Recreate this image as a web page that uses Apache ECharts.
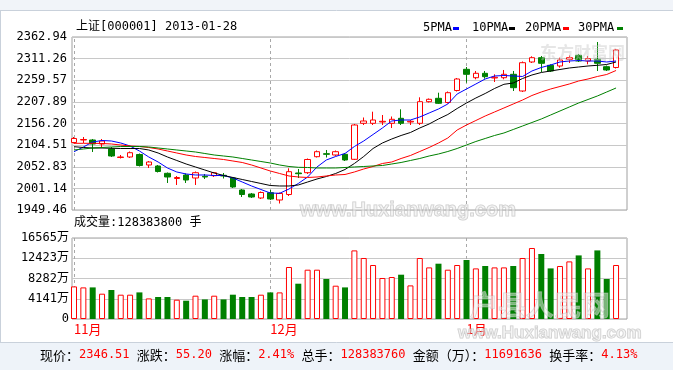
<!DOCTYPE html>
<html><head><meta charset="utf-8">
<script src="https://cdn.jsdelivr.net/npm/echarts@6/dist/echarts.min.js"></script>
<style>html,body{margin:0;padding:0;background:#fff}#c{width:673px;height:370px}</style>
</head><body><div id="c"></div>
<script>
const dates = [
'2012-11-02','2012-11-05','2012-11-06','2012-11-07','2012-11-08','2012-11-09','2012-11-12','2012-11-13','2012-11-14','2012-11-15',
'2012-11-16','2012-11-19','2012-11-20','2012-11-21','2012-11-22','2012-11-23','2012-11-26','2012-11-27','2012-11-28','2012-11-29',
'2012-11-30','2012-12-03','2012-12-04','2012-12-05','2012-12-06','2012-12-07','2012-12-10','2012-12-11','2012-12-12','2012-12-13',
'2012-12-14','2012-12-17','2012-12-18','2012-12-19','2012-12-20','2012-12-21','2012-12-24','2012-12-25','2012-12-26','2012-12-27',
'2012-12-28','2012-12-31','2013-01-04','2013-01-07','2013-01-08','2013-01-09','2013-01-10','2013-01-11','2013-01-14','2013-01-15',
'2013-01-16','2013-01-17','2013-01-18','2013-01-21','2013-01-22','2013-01-23','2013-01-24','2013-01-25','2013-01-28'];

const opens = [2110.80,2116.77,2116.77,2107.21,2095.26,2074.95,2076.14,2082.12,2057.02,2054.63,
2037.18,2024.76,2033.12,2025.95,2030.01,2031.45,2032.40,2025.95,1997.27,1987.71,
1978.15,1990.82,1973.37,1986.52,2037.90,2038.62,2076.86,2084.03,2080.92,2082.59,
2070.64,2156.68,2156.68,2159.79,2156.68,2168.63,2159.79,2156.68,2208.31,2216.43,
2206.40,2235.08,2285.74,2265.67,2276.18,2264.95,2265.67,2273.79,2233.88,2303.19,
2313.47,2295.30,2293.63,2309.64,2319.20,2305.58,2309.64,2291.96,2290.05];
const closes = [2120.36,2117.97,2107.21,2114.38,2078.53,2076.14,2086.42,2055.83,2064.19,2041.49,
2028.34,2027.15,2021.17,2038.62,2028.34,2038.62,2030.73,2004.44,1986.52,1980.54,
1991.30,1975.76,1988.91,2041.01,2036.23,2070.17,2088.81,2082.59,2088.81,2068.97,
2152.62,2162.18,2164.57,2161.46,2166.24,2156.68,2161.46,2208.31,2214.04,2204.48,
2229.82,2262.56,2273.79,2276.18,2268.06,2266.62,2273.79,2241.77,2301.52,2313.47,
2300.08,2281.68,2307.97,2313.47,2305.58,2311.08,2300.08,2284.07,2331.87];
const lows = [2108.41,2109.60,2088.09,2100.04,2076.14,2072.56,2073.75,2053.44,2049.85,2039.10,
2014.00,2009.22,2014.00,2009.22,2023.56,2028.34,2024.76,2002.05,1980.54,1978.15,
1975.76,1973.37,1965.01,1982.93,2025.95,2035.51,2074.95,2074.95,2078.53,2066.58,
2068.97,2152.62,2152.62,2152.62,2145.45,2152.62,2152.62,2152.62,2206.40,2202.81,
2204.01,2232.69,2253.72,2261.84,2263.28,2255.39,2261.84,2233.88,2231.49,2300.80,
2279.29,2279.29,2289.57,2300.80,2303.19,2297.69,2281.68,2281.68,2287.66];
const highs = [2123.94,2123.94,2119.16,2119.16,2100.04,2080.92,2089.29,2084.51,2066.58,2057.02,
2039.10,2030.73,2036.71,2041.49,2035.51,2040.29,2037.90,2027.15,1999.66,1990.10,
1993.69,1997.27,1991.30,2049.13,2047.46,2072.56,2091.68,2092.87,2091.68,2085.70,
2155.01,2170.55,2184.41,2176.52,2172.94,2190.14,2164.57,2218.82,2215.96,2229.82,
2232.69,2264.95,2291.24,2281.68,2281.68,2273.79,2284.07,2281.68,2304.39,2316.81,
2317.53,2297.69,2313.47,2318.73,2322.31,2317.53,2350.99,2294.83,2334.26];

const ma5 = [2088.81,2100.04,2111.99,2115.58,2114.38,2109.60,2102.43,2090.48,2076.14,2064.19,
2049.85,2040.29,2035.51,2033.12,2033.12,2031.93,2031.93,2025.95,2016.39,2006.83,
1998.47,1990.10,1989.38,1999.66,2012.81,2028.34,2052.24,2068.97,2077.34,2084.51,
2101.24,2114.38,2129.92,2145.45,2162.18,2164.57,2164.57,2171.74,2181.30,2190.86,
2202.81,2226.71,2238.66,2250.61,2262.56,2269.73,2270.93,2269.73,2268.54,2281.68,
2290.05,2296.02,2303.19,2305.58,2306.78,2305.58,2305.58,2303.19,2305.58];
const ma10 = [2100.76,2098.85,2097.65,2097.65,2096.93,2096.46,2096.46,2096.46,2092.87,2085.70,
2076.14,2067.78,2059.41,2052.24,2045.07,2037.90,2031.93,2027.15,2022.37,2017.59,
2012.81,2008.03,2006.83,2006.83,2009.22,2016.39,2023.56,2029.54,2036.71,2046.27,
2060.61,2077.34,2096.46,2109.60,2119.16,2127.53,2134.70,2145.45,2155.01,2166.96,
2177.72,2192.06,2205.20,2217.15,2227.91,2239.86,2249.89,2253.00,2263.76,2272.12,
2278.10,2281.68,2285.27,2288.85,2291.24,2293.63,2295.30,2297.22,2303.19];
const ma20 = [2108.88,2108.88,2108.88,2108.41,2107.21,2104.82,2102.43,2101.24,2098.85,2095.26,
2090.48,2085.70,2080.92,2077.34,2074.95,2072.56,2070.17,2066.58,2063.00,2057.02,
2049.85,2042.68,2036.71,2030.73,2028.34,2027.15,2028.34,2030.73,2033.12,2034.32,
2040.29,2047.46,2053.44,2060.61,2064.19,2072.56,2079.73,2089.29,2098.85,2109.60,
2121.55,2140.67,2152.62,2163.38,2174.13,2183.69,2193.25,2202.81,2212.37,2223.13,
2231.49,2238.66,2244.64,2250.61,2257.78,2262.56,2268.54,2273.32,2282.88];
const ma30 = [2092.87,2095.26,2097.65,2098.85,2100.04,2101.24,2101.24,2101.24,2100.04,2097.65,
2095.26,2092.87,2090.48,2088.09,2084.51,2080.92,2078.53,2076.14,2072.56,2068.97,
2065.39,2061.80,2057.02,2053.44,2051.52,2051.05,2049.85,2049.85,2049.85,2051.05,
2052.24,2053.44,2054.63,2055.83,2059.41,2063.00,2067.78,2072.56,2078.53,2083.31,
2089.29,2096.46,2104.82,2113.19,2120.36,2127.53,2133.50,2141.87,2150.23,2158.60,
2166.96,2176.52,2186.08,2195.64,2205.20,2213.57,2221.93,2231.49,2241.05];

// volume in 万手
const volumes = [6667,6462,6462,5174,5930,4970,4970,5440,4213,4499,
4499,3947,3742,4765,4008,4765,4008,4970,4499,4499,
4970,5440,5440,10634,7219,10082,10082,8180,6810,6462,
14029,12475,11043,8385,8589,9060,6871,12475,10552,11309,
10082,11043,12066,10348,10839,10552,10552,10839,12475,14520,
13293,10348,10839,11779,13006,10348,14029,8180,11043];

const priceTicks = ['1949.46','2001.14','2052.83','2104.51','2156.20','2207.89','2259.57','2311.26','2362.94'];
const volTicks = ['0','4141万','8282万','12423万','16565万'];
const priceMin = 1949.46, priceMax = 2362.94, volMax = 16565;
const maNames = ['5PMA','10PMA','20PMA','30PMA'];
const maColors = ['#0000ff','#000000','#ff0000','#008000'];

const RED = '#ff0000', GREEN = '#008000';
const MONO = '"DejaVu Sans Mono","Noto Sans CJK SC",monospace';
const CJK = '"Noto Sans CJK SC","DejaVu Sans",sans-serif';

const candles = dates.map((d, i) => [opens[i], closes[i], lows[i], highs[i]]);
const monthStarts = [];
dates.forEach((d, i) => { if (i === 0 || d.slice(0, 7) !== dates[i - 1].slice(0, 7)) monthStarts.push(i); });
const volData = volumes.map((v, i) => closes[i] >= opens[i]
  ? { value: v, itemStyle: { color: '#ffffff', borderColor: RED, borderWidth: 1 } }
  : { value: v, itemStyle: { color: GREEN } });

const monthLines = {
  symbol: ['none', 'none'], silent: true, label: { show: false }, z: 1,
  lineStyle: { type: [3, 3], color: '#a8a8a8', width: 1 },
  emphasis: { disabled: true },
  data: monthStarts.map(i => ({ xAxis: dates[i] }))
};

const legendGraphics = [];
const legendX = [423, 472, 525, 578];
const legendIconX = [453, 509, 563, 617];
maNames.forEach((n, k) => {
  legendGraphics.push({ type: 'text', x: legendX[k], y: 28, style: { text: n, font: '12px ' + MONO, fill: '#000', verticalAlign: 'middle' } });
  legendGraphics.push({ type: 'rect', shape: { x: legendIconX[k], y: 27, width: 6, height: 3 }, style: { fill: maColors[k] } });
});

const status = '{l|现价：}{v|2346.51 }{l|涨跌：}{v|55.20 }{l|涨幅：}{v|2.41% }{l|总手：}{v|128383760 }{l|金额（万）：}{v|11691636 }{l|换手率：}{v|4.13%}';

const chart = echarts.init(document.getElementById('c'), null, { renderer: 'canvas' });
chart.setOption({
  animation: false,
  backgroundColor: '#ffffff',
  grid: [
    { left: 72, top: 37, width: 555, height: 173, show: true, borderColor: '#a0a0a0', borderWidth: 1, backgroundColor: 'transparent' },
    { left: 72, top: 238, width: 555, height: 81, show: true, borderColor: '#a0a0a0', borderWidth: 1, backgroundColor: 'transparent' },
    { left: 69.33, top: 37, width: 551.4, height: 173 },
    { left: 69.33, top: 238, width: 551.4, height: 81 }
  ],
  xAxis: [
    { gridIndex: 0, type: 'value', show: false, min: 0, max: 1 },
    { gridIndex: 1, type: 'value', show: false, min: 0, max: 1 },
    { gridIndex: 2, type: 'category', data: dates, show: false },
    { gridIndex: 3, type: 'category', data: dates,
      axisLine: { show: false }, axisTick: { show: false }, splitLine: { show: false },
      axisLabel: { interval: (i) => monthStarts.includes(i), formatter: (v) => (+v.slice(5, 7)) + '月',
        color: RED, fontSize: 13, fontFamily: CJK, align: 'left', margin: 4 } }
  ],
  yAxis: [
    { gridIndex: 0, type: 'value', min: 0, max: 8, interval: 1,
      axisLine: { show: false }, axisTick: { show: false },
      splitLine: { show: true, lineStyle: { color: '#c8c8c8', width: 1 } },
      axisLabel: { formatter: (v) => priceTicks[v], fontFamily: MONO, fontSize: 12, color: '#000', margin: 5, padding: [0, 0, 4, 0] } },
    { gridIndex: 1, type: 'value', min: 0, max: 4, interval: 1,
      axisLine: { show: false }, axisTick: { show: false },
      splitLine: { show: true, lineStyle: { color: '#c8c8c8', width: 1 } },
      axisLabel: { formatter: (v) => volTicks[v], fontFamily: MONO, fontSize: 12, color: '#000', margin: 3, padding: [8, 0, 0, 0] } },
    { gridIndex: 2, type: 'value', min: priceMin, max: priceMax, show: false },
    { gridIndex: 3, type: 'value', min: 0, max: volMax, show: false }
  ],
  series: [
    { type: 'line', name: 'monthP', xAxisIndex: 2, yAxisIndex: 2, data: [], markLine: monthLines, z: 1 },
    { type: 'line', name: 'monthV', xAxisIndex: 3, yAxisIndex: 3, data: [], markLine: monthLines, z: 1 },
    { type: 'candlestick', name: '上证', xAxisIndex: 2, yAxisIndex: 2, data: candles, barWidth: 6,
      itemStyle: { color: '#ffffff', color0: GREEN, borderColor: RED, borderColor0: GREEN, borderWidth: 1 } },
    ...maNames.map((n, k) => ({
      type: 'line', name: n, xAxisIndex: 2, yAxisIndex: 2, data: [ma5, ma10, ma20, ma30][k],
      symbol: 'none', smooth: false, lineStyle: { color: maColors[k], width: 1 }, z: 3
    })),
    { type: 'bar', name: '成交量', xAxisIndex: 3, yAxisIndex: 3, data: volData, barWidth: 6 }
  ],
  graphic: [
    { type: 'rect', shape: { x: 0, y: 0, width: 673, height: 10 }, style: { fill: '#f1f4f9' }, z: -5 },
    { type: 'line', shape: { x1: 0, y1: 10.5, x2: 673, y2: 10.5 }, style: { stroke: '#c9d1db', lineWidth: 1 } },
    { type: 'line', shape: { x1: 0.5, y1: 10, x2: 0.5, y2: 342 }, style: { stroke: '#c9d1db', lineWidth: 1 } },
    { type: 'rect', shape: { x: 0, y: 342, width: 673, height: 28 }, style: { fill: '#eef3f9' }, z: -5 },
    { type: 'line', shape: { x1: 0, y1: 342.5, x2: 673, y2: 342.5 }, style: { stroke: '#c9d1db', lineWidth: 1 } },
    { type: 'text', x: 76, y: 27, style: { text: '上证[000001] 2013-01-28', font: '12px ' + MONO, fill: '#000', verticalAlign: 'middle' } },
    ...legendGraphics,
    { type: 'text', x: 74, y: 223, style: { text: '成交量:128383800 手', font: '12px ' + MONO, fill: '#000', verticalAlign: 'middle' } },
    { type: 'text', x: 40, y: 355, style: { text: status, verticalAlign: 'middle',
      rich: { l: { fontFamily: CJK, fontSize: 13, fill: '#000' }, v: { fontFamily: MONO, fontSize: 12, fill: RED } } } },
    { type: 'text', x: 540, y: 53, z: 50, style: { text: '东方财富网', font: 'bold 17px ' + CJK, fill: 'rgba(200,200,200,0.45)', verticalAlign: 'middle' } },
    { type: 'text', x: 300, y: 210, z: 50, style: { text: 'www.Huxianwang.com', font: 'bold 20px "Liberation Sans",sans-serif', fill: 'rgba(235,235,235,0.5)', stroke: 'rgba(170,170,170,0.6)', lineWidth: 1, verticalAlign: 'middle' } },
    { type: 'text', x: 470, y: 305, z: 50, style: { text: '户县人民网', font: 'bold 28px ' + CJK, fill: 'rgba(240,240,240,0.5)', stroke: 'rgba(180,180,180,0.5)', lineWidth: 1, verticalAlign: 'middle' } },
    { type: 'text', x: 458, y: 333, z: 50, style: { text: 'www.Huxianwang.com', font: 'bold 17px "Liberation Sans",sans-serif', fill: 'rgba(235,235,235,0.5)', stroke: 'rgba(170,170,170,0.6)', lineWidth: 1, verticalAlign: 'middle' } }
  ]
});
</script>
</body></html>
